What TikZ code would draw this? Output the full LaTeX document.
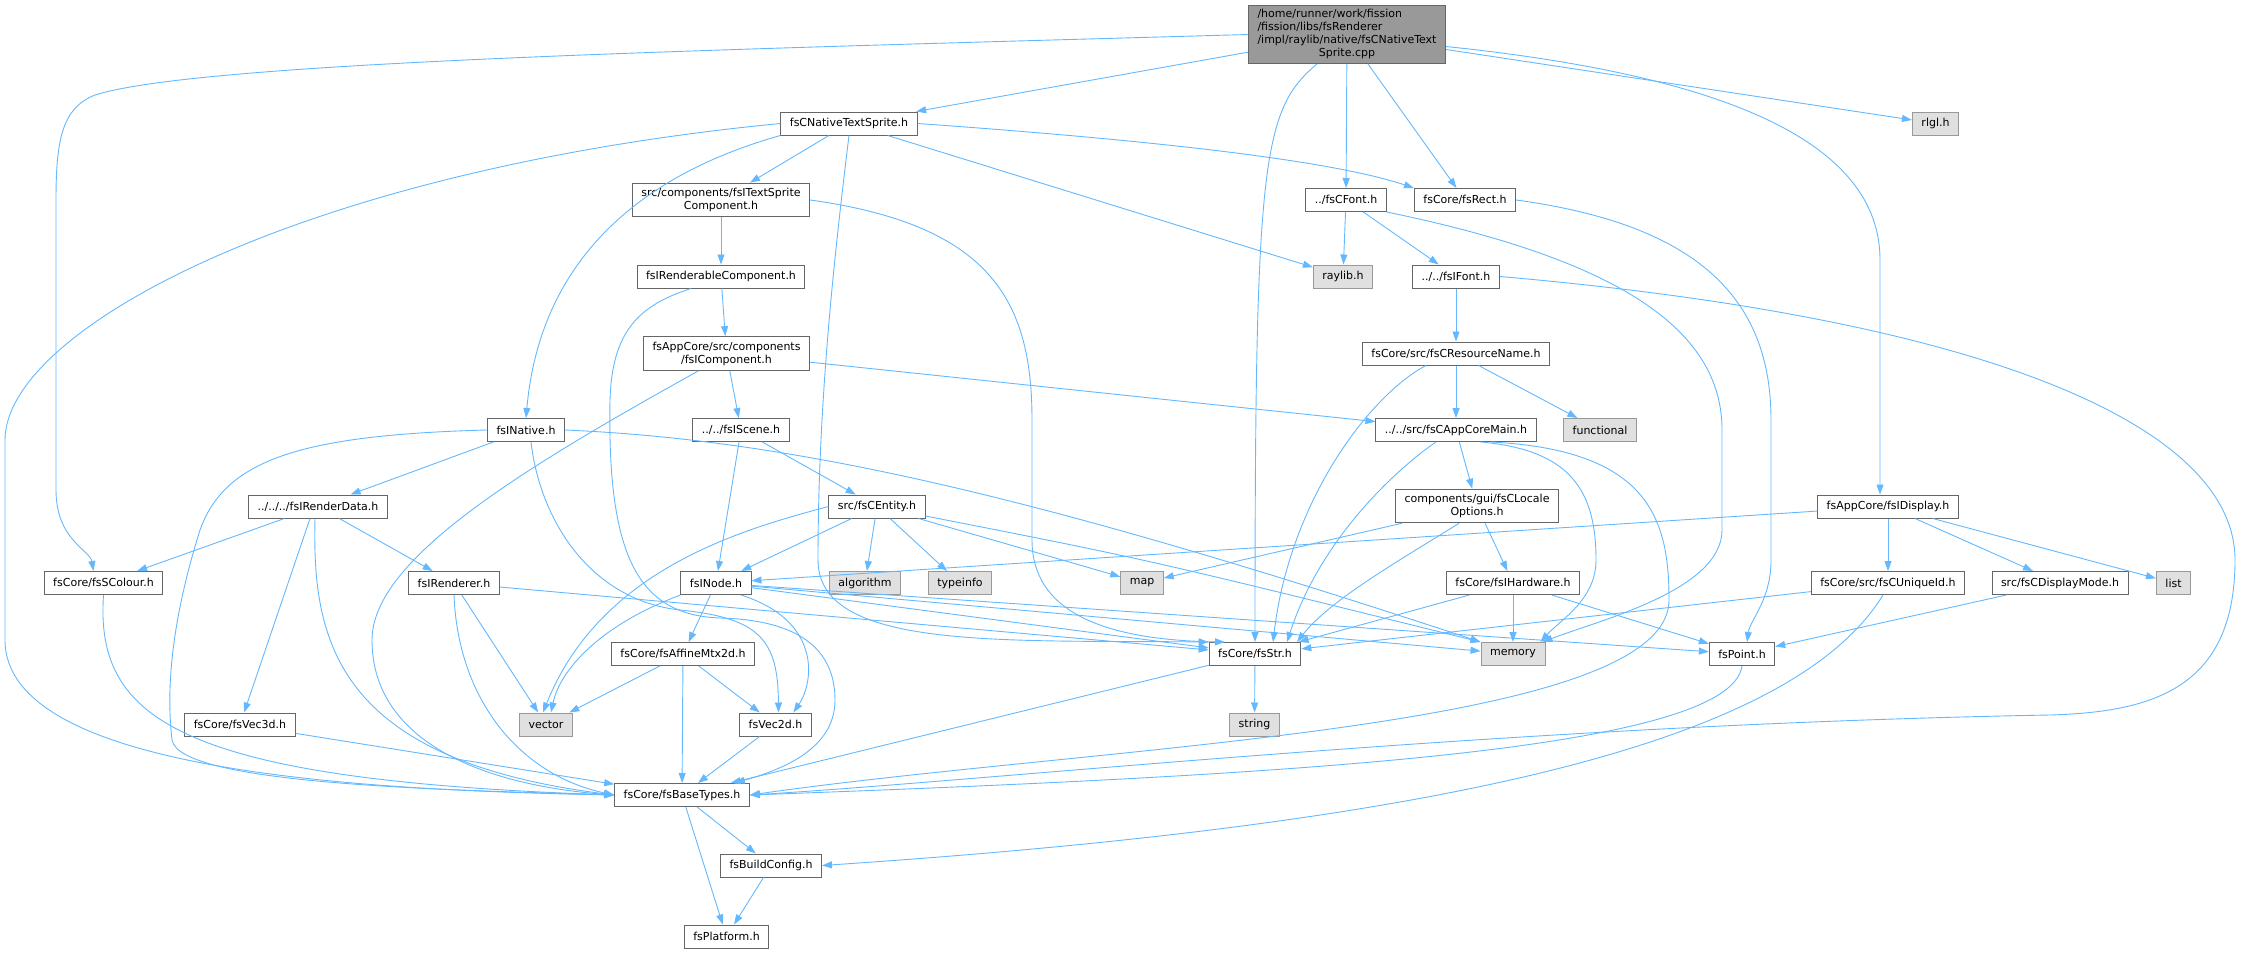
\documentclass[tikz,border=0pt]{standalone}
\usepackage{fontspec}
\setmainfont{DejaVu Sans}
\usepackage{xcolor}
\usetikzlibrary{arrows.meta,positioning}
\definecolor{edgeblue}{HTML}{63B8FF}
\definecolor{boxline}{HTML}{666666}
\definecolor{rootfill}{HTML}{999999}
\definecolor{extfill}{HTML}{E0E0E0}
\definecolor{extline}{HTML}{999999}

\begin{document}
\begin{tikzpicture}[x=1pt, y=-1pt,
    hdr/.style={draw=boxline, fill=white, line width=1pt, font=\fontsize{11}{13}\selectfont,
        minimum height=23pt, inner xsep=9pt, inner ysep=5pt, align=center},
    extbox/.style={hdr, draw=extline, fill=extfill},
    dep/.style={color=edgeblue, line width=0.9pt, -{Triangle[length=10pt,width=7pt]}}]
    \useasboundingbox (0,0) rectangle (2243,953);

    \node[hdr, fill=rootfill, inner ysep=3pt] (cpp) at (1347,34.5) {\begin{tabular}{@{}l@{}}/home/runner/work/fission\\/fission/libs/fsRenderer\\/impl/raylib/native/fsCNativeText\\\multicolumn{1}{@{}c@{}}{Sprite.cpp}\end{tabular}};
    \node[hdr] (sprite) at (849,123.5) {fsCNativeTextSprite.h};
    \node[extbox] (rlgl) at (1935.5,123.5) {rlgl.h};
    \node[hdr] (tscomp) at (721,200) {src/components/fsITextSprite\\Component.h};
    \node[hdr] (cfont) at (1346,200) {../fsCFont.h};
    \node[hdr] (rect) at (1465,200) {fsCore/fsRect.h};
    \node[hdr] (rendcomp) at (721,276.5) {fsIRenderableComponent.h};
    \node[extbox] (raylib) at (1343,276.5) {raylib.h};
    \node[hdr] (ifont) at (1456,276.5) {../../fsIFont.h};
    \node[hdr] (icomp) at (726.5,353.5) {fsAppCore/src/components\\/fsIComponent.h};
    \node[hdr] (resname) at (1456,353.5) {fsCore/src/fsCResourceName.h};
    \node[hdr] (inative) at (526,430) {fsINative.h};
    \node[hdr] (iscene) at (741,430) {../../fsIScene.h};
    \node[hdr] (appmain) at (1456,430) {../../src/fsCAppCoreMain.h};
    \node[extbox] (functional) at (1600,430) {functional};
    \node[hdr] (rdata) at (318,506.5) {../../../fsIRenderData.h};
    \node[hdr] (entity) at (877,506.5) {src/fsCEntity.h};
    \node[hdr] (locale) at (1477,506) {components/gui/fsCLocale\\Options.h};
    \node[hdr] (idisplay) at (1888,506.5) {fsAppCore/fsIDisplay.h};
    \node[hdr] (scolour) at (103.5,583) {fsCore/fsSColour.h};
    \node[hdr] (irenderer) at (454,583) {fsIRenderer.h};
    \node[hdr] (inode) at (716,583) {fsINode.h};
    \node[extbox] (algorithm) at (865,583) {algorithm};
    \node[extbox] (typeinfo) at (960,583) {typeinfo};
    \node[extbox] (map) at (1142,583) {map};
    \node[hdr] (ihardware) at (1513,583) {fsCore/fsIHardware.h};
    \node[hdr] (uniqueid) at (1888,583) {fsCore/src/fsCUniqueId.h};
    \node[hdr] (dispmode) at (2060,583) {src/fsCDisplayMode.h};
    \node[extbox] (list) at (2173.5,583) {list};
    \node[hdr] (affine) at (683,654) {fsCore/fsAffineMtx2d.h};
    \node[hdr] (str) at (1255,654) {fsCore/fsStr.h};
    \node[extbox] (memory) at (1513,654) {memory};
    \node[hdr] (point) at (1742,654) {fsPoint.h};
    \node[hdr] (vecthree) at (240,724.5) {fsCore/fsVec3d.h};
    \node[extbox] (vector) at (546,724.5) {vector};
    \node[hdr] (vectwo) at (775.5,724.5) {fsVec2d.h};
    \node[extbox] (string) at (1254.5,724.5) {string};
    \node[hdr] (basetypes) at (682,795) {fsCore/fsBaseTypes.h};
    \node[hdr] (buildcfg) at (771,865.5) {fsBuildConfig.h};
    \node[hdr] (platform) at (726.5,936.5) {fsPlatform.h};

    \draw[dep] (cpp) -- (sprite);
    \draw[dep] (cpp.west) .. controls (700,50) and (200,62) .. (95,95) .. controls (62,108) and (56,140) .. (56,200) -- (56,490) .. controls (56,540) and (90,550) .. ([xshift=-10pt]scolour.north);
    \draw[dep] ([xshift=-30pt]cpp.south) .. controls (1262,110) and (1255,160) .. (str.north);
    \draw[dep] (cpp) -- (cfont);
    \draw[dep] (cpp) -- (rect);
    \draw[dep] ([yshift=-12pt]cpp.east) .. controls (1720,75) and (1880,140) .. (1880,260) -- ([xshift=-8pt]idisplay.north);
    \draw[dep] (cpp) -- (rlgl);

    \draw[dep] (sprite) -- (tscomp);
    \draw[dep] (sprite.south west) .. controls (640,175) and (540,260) .. (inative.north);
    \draw[dep] (sprite.west) .. controls (300,170) and (5,330) .. (5,440) -- (5,640) .. controls (5,770) and (350,790) .. (basetypes.west);
    \draw[dep] (sprite.south) .. controls (835,250) and (818,400) .. (818,560) .. controls (818,650) and (1000,640) .. (str.north west);
    \draw[dep] (sprite) -- (raylib);
    \draw[dep] (sprite.east) .. controls (1150,140) and (1330,160) .. (rect.north west);

    \draw[dep] (tscomp) -- (rendcomp);
    \draw[dep] (tscomp.east) .. controls (990,225) and (1032,300) .. (1032,420) -- (1032,540) .. controls (1032,610) and (1100,640) .. ([xshift=-30pt]str.north);
    \draw[dep] (rendcomp) -- (icomp);
    \draw[dep] ([xshift=-30pt]rendcomp.south) .. controls (640,305) and (612,330) .. (610,400) .. controls (607,560) and (640,615) .. (720,618) .. controls (800,620) and (835,650) .. (835,700) .. controls (835,750) and (780,770) .. ([xshift=-15pt]basetypes.north east);

    \draw[dep] (icomp) -- (iscene);
    \draw[dep] (icomp) -- (appmain);
    \draw[dep] ([xshift=-28pt]icomp.south) .. controls (520,470) and (372,560) .. (372,640) .. controls (372,740) and (480,785) .. (basetypes.west);
    \draw[dep] (iscene) -- (inode);
    \draw[dep] (iscene) -- (entity);

    \draw[dep] (inative) -- (rdata);
    \draw[dep] (inative.west) .. controls (300,435) and (225,460) .. (200,530) .. controls (175,610) and (165,680) .. (172,740) .. controls (180,785) and (450,790) .. (basetypes.west);
    \draw[dep] ([xshift=5pt]inative.south) .. controls (540,520) and (590,600) .. (680,610) .. controls (760,618) and (778,640) .. ([xshift=3pt]vectwo.north);
    \draw[dep] (inative.east) .. controls (800,440) and (1050,500) .. (memory.north west);

    \draw[dep] (rdata) -- (scolour);
    \draw[dep] (rdata) -- (irenderer);
    \draw[dep] ([xshift=-8pt]rdata.south) -- (vecthree);
    \draw[dep] ([xshift=-3pt]rdata.south) .. controls (312,640) and (335,760) .. (basetypes.west);
    \draw[dep] (scolour.south) .. controls (95,720) and (180,780) .. (basetypes.west);
    \draw[dep] (irenderer) -- (vector);
    \draw[dep] (irenderer.south) .. controls (458,700) and (520,775) .. (basetypes.west);
    \draw[dep] (irenderer) -- (str);

    \draw[dep] (inode) -- (affine);
    \draw[dep] (inode.south west) .. controls (600,625) and (560,670) .. ([xshift=5pt]vector.north);
    \draw[dep] ([xshift=25pt]inode.south) .. controls (820,620) and (815,680) .. ([xshift=18pt]vectwo.north);
    \draw[dep] (inode) -- (str);
    \draw[dep] (inode) -- (point);
    \draw[dep] (inode) -- (memory);
    \draw[dep] (affine) -- (vector);
    \draw[dep] (affine) -- (basetypes);
    \draw[dep] (affine) -- (vectwo);
    \draw[dep] (vectwo) -- (basetypes);
    \draw[dep] (vecthree) -- (basetypes);

    \draw[dep] (entity) -- (inode);
    \draw[dep] (entity) -- (algorithm);
    \draw[dep] (entity) -- (typeinfo);
    \draw[dep] (entity) -- (map);
    \draw[dep] (entity) .. controls (1150,560) .. (memory.north west);
    \draw[dep] (entity.west) .. controls (740,530) and (600,570) .. ([xshift=-3pt]vector.north);

    \draw[dep] (resname) -- (appmain);
    \draw[dep] (resname) -- (functional);
    \draw[dep] ([xshift=-30pt]resname.south) .. controls (1370,395) and (1290,500) .. ([xshift=18pt]str.north);
    \draw[dep] (appmain) -- (locale);
    \draw[dep] ([xshift=-20pt]appmain.south) .. controls (1395,470) and (1320,540) .. ([xshift=32pt]str.north);
    \draw[dep] ([xshift=25pt]appmain.south) .. controls (1570,450) and (1596,490) .. (1596,560) .. controls (1596,600) and (1560,620) .. ([xshift=-5pt]memory.north east);
    \draw[dep] ([xshift=35pt]appmain.south) .. controls (1650,450) and (1669,520) .. (1669,600) .. controls (1669,730) and (1100,745) .. (basetypes.east);
    \draw[dep] (locale) -- (map);
    \draw[dep] ([xshift=-18pt]locale.south) .. controls (1400,560) and (1330,600) .. ([xshift=42pt]str.north);
    \draw[dep] (locale) -- (ihardware);
    \draw[dep] (ihardware) -- (str);
    \draw[dep] (ihardware) -- (memory);
    \draw[dep] (ihardware) -- (point);

    \draw[dep] (cfont) -- (raylib);
    \draw[dep] (cfont) -- (ifont);
    \draw[dep] (cfont.south east) .. controls (1620,260) and (1722,330) .. (1722,430) -- (1722,530) .. controls (1722,590) and (1600,620) .. ([xshift=-3pt]memory.north east);
    \draw[dep] (rect.east) .. controls (1700,225) and (1771,300) .. (1771,420) -- (1771,560) .. controls (1771,600) and (1750,620) .. ([xshift=5pt]point.north);
    \draw[dep] (ifont) -- (resname);
    \draw[dep] (ifont.east) .. controls (2000,320) and (2235,430) .. (2235,560) .. controls (2235,690) and (2150,712) .. (2050,715) .. controls (1500,725) and (1000,780) .. (basetypes.east);

    \draw[dep] (idisplay) -- (inode);
    \draw[dep] (idisplay) -- (uniqueid);
    \draw[dep] (idisplay) -- (dispmode);
    \draw[dep] (idisplay) -- (list);
    \draw[dep] (uniqueid) -- (str);
    \draw[dep] ([xshift=-5pt]uniqueid.south) .. controls (1800,730) and (1500,820) .. (buildcfg.east);
    \draw[dep] (dispmode) -- (point);
    \draw[dep] (point.south) .. controls (1730,750) and (1300,775) .. (basetypes.east);

    \draw[dep] (str) -- (string);
    \draw[dep] (str) -- (basetypes);
    \draw[dep] (basetypes) -- (buildcfg);
    \draw[dep] (basetypes) -- (platform);
    \draw[dep] (buildcfg) -- (platform);
\end{tikzpicture}
\end{document}
